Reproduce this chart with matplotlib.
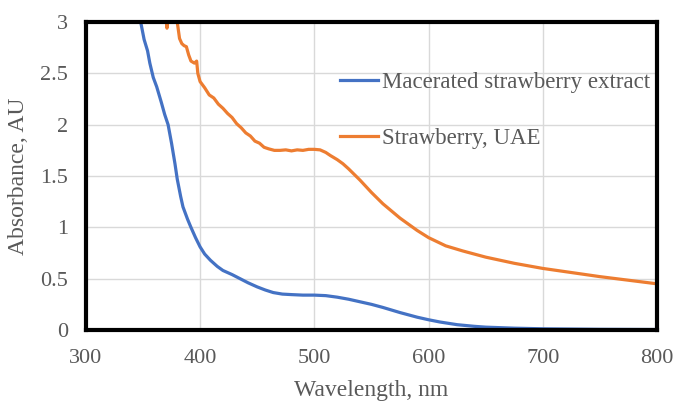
import numpy as np
import matplotlib
matplotlib.use('Agg')
import matplotlib.pyplot as plt

# Macerated strawberry extract
wl_mac = [347, 348, 351, 354, 356, 359, 362, 366, 369, 372, 375, 378, 380, 383, 385,
          389, 392, 396, 400, 404, 409, 415, 420, 428, 435, 442, 450, 457, 464, 472,
          480, 490, 500, 510, 520, 530, 540, 550, 560, 575, 590, 600, 610, 625, 640,
          650, 675, 700, 750, 800]
abs_mac = [3.05, 3.0, 2.83, 2.72, 2.6, 2.46, 2.37, 2.22, 2.1, 2.0, 1.82, 1.62, 1.47, 1.3, 1.2,
           1.08, 1.0, 0.9, 0.81, 0.74, 0.68, 0.62, 0.58, 0.54, 0.5, 0.46, 0.42, 0.39, 0.365, 0.35,
           0.345, 0.34, 0.34, 0.335, 0.32, 0.3, 0.275, 0.25, 0.22, 0.17, 0.125, 0.1, 0.078, 0.052, 0.036,
           0.028, 0.018, 0.012, 0.007, 0.005]

# Strawberry, UAE
wl_uae = [370, 371, 372, 379, 380, 381, 382, 384, 386, 388, 390, 392, 395, 397, 398,
          400, 404, 408, 412, 416, 420, 424, 428, 432, 436, 440, 444, 448, 452, 456,
          460, 465, 470, 475, 480, 485, 490, 495, 500, 505, 510, 514, 520, 525, 530,
          540, 550, 560, 575, 590, 600, 615, 630, 650, 675, 700, 725, 750, 775, 800]
abs_uae = [3.06, 2.94, 3.06, 3.08, 3.0, 2.92, 2.84, 2.79, 2.77, 2.76, 2.68, 2.62, 2.6, 2.62, 2.5,
           2.42, 2.36, 2.29, 2.26, 2.2, 2.16, 2.11, 2.07, 2.01, 1.97, 1.92, 1.89, 1.84, 1.82, 1.78,
           1.765, 1.75, 1.75, 1.755, 1.745, 1.755, 1.75, 1.76, 1.76, 1.755, 1.73, 1.7, 1.66, 1.62, 1.57,
           1.46, 1.34, 1.23, 1.09, 0.97, 0.9, 0.82, 0.77, 0.71, 0.65, 0.6, 0.56, 0.52, 0.485, 0.45]

xticks = [300, 400, 500, 600, 700, 800]
yticks = [0, 0.5, 1, 1.5, 2, 2.5, 3]
ytick_labels = ['0', '0.5', '1', '1.5', '2', '2.5', '3']

plt.rcParams['font.family'] = ['Liberation Serif', 'DejaVu Serif']
txt = '#595959'

fig = plt.figure(figsize=(6.76, 4.01), dpi=100)
ax = fig.add_axes([0.127, 0.177, 0.845, 0.768])

ax.plot(wl_mac, abs_mac, color='#4472C4', lw=2.3, label='Macerated strawberry extract', zorder=3)
ax.plot(wl_uae, abs_uae, color='#ED7D31', lw=2.3, label='Strawberry, UAE', zorder=3)

ax.set_xlim(300, 800)
ax.set_ylim(0, 3)
ax.set_xticks(xticks)
ax.set_yticks(yticks)
ax.set_yticklabels(ytick_labels)
ax.grid(True, color='#d9d9d9', lw=1, zorder=0)
ax.set_axisbelow(True)
ax.tick_params(length=0, labelsize=16, labelcolor=txt)
ax.tick_params(axis='y', pad=13)
ax.tick_params(axis='x', pad=14)

for s in ax.spines.values():
    s.set_color('black')
    s.set_linewidth(3)
    s.set_zorder(4)

ax.set_xlabel('Wavelength, nm', fontsize=17, color=txt, labelpad=8)
ax.set_ylabel('Absorbance, AU', fontsize=17, color=txt, labelpad=8)

leg = ax.legend(loc='upper left', bbox_to_anchor=(0.445, 0.837), frameon=False,
                fontsize=16.5, handlelength=1.66, handletextpad=0.17, labelspacing=1.5,
                borderpad=0, borderaxespad=0)
for t in leg.get_texts():
    t.set_color(txt)

fig.savefig('out.png', dpi=100)
